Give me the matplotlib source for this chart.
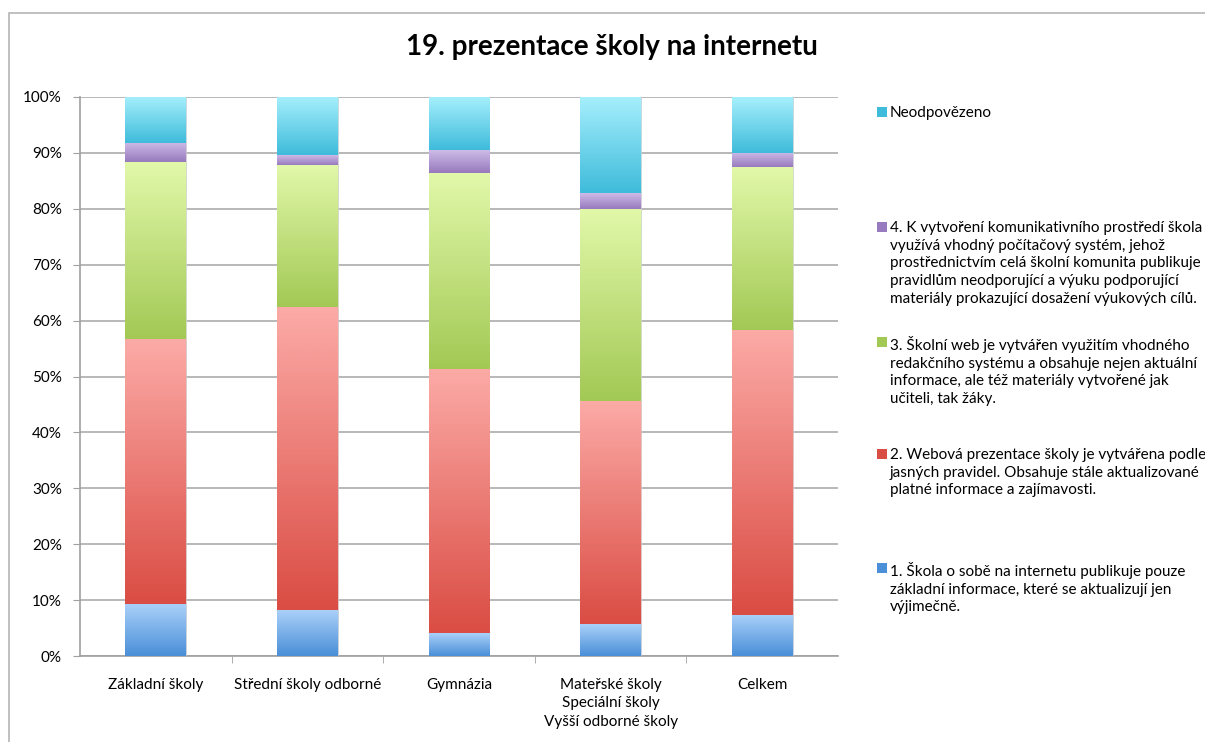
import numpy as np
import matplotlib
matplotlib.use("Agg")
import matplotlib.pyplot as plt
from matplotlib.colors import LinearSegmentedColormap
from matplotlib.patches import Rectangle

plt.rcParams['font.family'] = ['Lato', 'DejaVu Sans']

# ── Data (share of answers, %) ────────────────────────────────────────────────
categories = ["Základní školy", "Střední školy odborné", "Gymnázia",
              "Mateřské školy\nSpeciální školy\nVyšší odborné školy", "Celkem"]
level1 = [9.3, 8.2, 4.1, 5.7, 7.4]
level2 = [47.4, 54.2, 47.3, 39.9, 51.0]
level3 = [31.6, 25.5, 35.0, 34.4, 29.0]
level4 = [3.4, 1.7, 4.1, 2.75, 2.6]
no_answer = [8.3, 10.4, 9.5, 17.25, 10.0]

series_labels = [
    "1. Škola o sobě na internetu publikuje pouze\nzákladní informace, které se aktualizují jen\nvýjimečně.",
    "2. Webová prezentace školy je vytvářena podle\njasných pravidel. Obsahuje stále aktualizované\nplatné informace a zajímavosti.",
    "3. Školní web je vytvářen využitím vhodného\nredakčního systému a obsahuje nejen aktuální\ninformace, ale též materiály vytvořené jak\nučiteli, tak žáky.",
    "4. K vytvoření komunikativního prostředí škola\nvyužívá vhodný počítačový systém, jehož\nprostřednictvím celá školní komunita publikuje\npravidlům neodporující a výuku podporující\nmateriály prokazující dosažení výukových cílů.",
    "Neodpovězeno",
]
series = [level1, level2, level3, level4, no_answer]

# (top colour, bottom colour) gradients for each series
grads = [("#a9d0f9", "#4a8fd8"),
         ("#fcaaa6", "#da4d44"),
         ("#e1f8a9", "#a3c955"),
         ("#cdbbe7", "#987abe"),
         ("#a6effc", "#3fbcdb")]

# ── Figure ────────────────────────────────────────────────────────────────────
fig = plt.figure(figsize=(12.05, 7.42), dpi=100)
fig.patches.append(Rectangle((9 / 1205, -0.01), 1.1, 1 - 13 / 742 + 0.01,
                             transform=fig.transFigure, fill=False,
                             edgecolor="#b5b5b5", linewidth=1.2))
ax = fig.add_axes([80 / 1205, 1 - 656 / 742, 758 / 1205, 559 / 742])

x = np.arange(len(categories))
bottom = np.zeros(len(categories))
for vals, (c_top, c_bot) in zip(series, grads):
    vals = np.array(vals) / 100
    bars = ax.bar(x, vals, 0.40, bottom=bottom, color=c_bot,
                  edgecolor="#d8d8d8", linewidth=0.5, zorder=3)
    cmap = LinearSegmentedColormap.from_list("g", [c_bot, c_top])
    grad = np.linspace(0, 1, 64).reshape(-1, 1)
    for b in bars:
        bx, by = b.get_x(), b.get_y()
        ax.imshow(grad, cmap=cmap, origin="lower", aspect="auto",
                  extent=(bx, bx + b.get_width(), by, by + b.get_height()),
                  zorder=3.5, interpolation="bilinear")
    bottom += vals

ax.set_xlim(-0.5, len(categories) - 0.5)
ax.set_ylim(0, 1)
ax.set_yticks(np.arange(0, 1.01, 0.1))
ax.set_yticklabels([f"{int(round(v * 100))}%" for v in np.arange(0, 1.01, 0.1)])
ax.yaxis.grid(True, color="#ababab", linewidth=1.2, zorder=0)
ax.set_axisbelow(True)

ax.set_xticks(x)
ax.set_xticklabels(categories, fontsize=11, linespacing=1.38)
ax.set_xticks(np.arange(0.5, len(categories) - 0.5, 1), minor=True)
ax.tick_params(axis="x", which="major", length=0, pad=16)
ax.tick_params(axis="x", which="minor", length=5, color="#a0a0a0")
ax.tick_params(axis="y", length=5, color="#a0a0a0", labelsize=11, pad=8)
for s in ["top", "right"]:
    ax.spines[s].set_visible(False)
for s in ["left", "bottom"]:
    ax.spines[s].set_color("#a0a0a0")
    ax.spines[s].set_linewidth(1.2)

fig.text(612 / 1205, 1 - 47 / 742, "19. prezentace školy na internetu",
         ha="center", va="center", fontsize=20, fontweight="bold")

# ── Legend (top entry = last series) ──────────────────────────────────────────
legend_y = [568, 454, 342, 227, 112]
for lab, (c_top, c_bot), yy in zip(series_labels, grads, legend_y):
    fig.patches.append(Rectangle((877 / 1205, 1 - (yy + 5) / 742), 10 / 1205, 10 / 742,
                                 transform=fig.transFigure,
                                 facecolor=c_bot, edgecolor="none"))
    fig.text(890 / 1205, 1 - (yy - 6) / 742, lab, ha="left", va="top",
             fontsize=11, linespacing=1.33)

fig.savefig("out.png", dpi=100, facecolor="white")
